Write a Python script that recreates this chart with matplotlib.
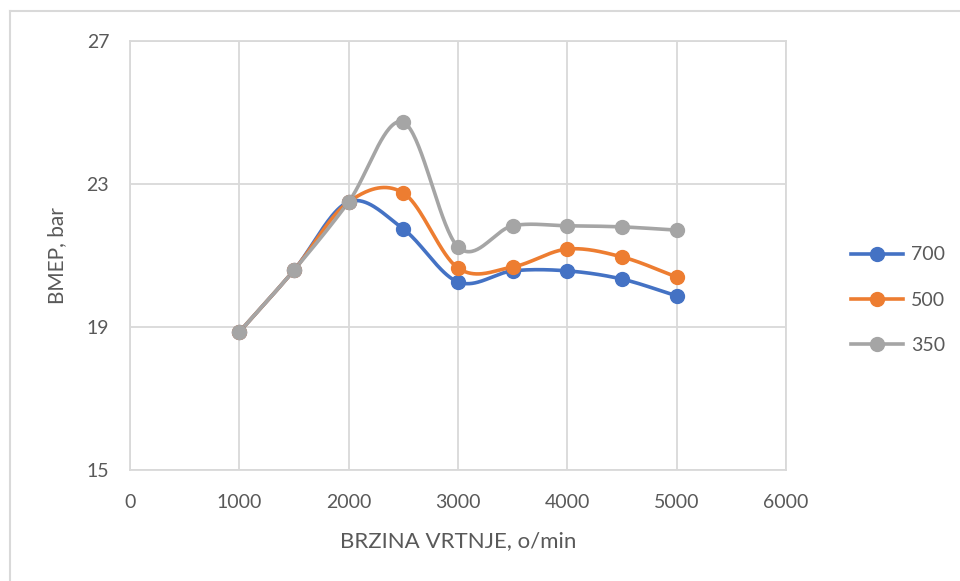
import matplotlib

matplotlib.use("Agg")

import matplotlib.pyplot as plt
import numpy as np
from matplotlib.lines import Line2D

speed = [1000, 1500, 2000, 2500, 3000, 3500, 4000, 4500, 5000]
bmep_700 = [18.86, 20.59, 22.50, 21.74, 20.26, 20.57, 20.57, 20.34, 19.87]
bmep_500 = [18.86, 20.59, 22.50, 22.75, 20.65, 20.68, 21.18, 20.96, 20.40]
bmep_350 = [18.86, 20.59, 22.50, 24.73, 21.24, 21.83, 21.83, 21.80, 21.71]

series_labels = ["700", "500", "350"]
series_colors = ["#4472C4", "#ED7D31", "#A5A5A5"]

x_ticks = [0, 1000, 2000, 3000, 4000, 5000, 6000]
y_ticks = [15, 19, 23, 27]

TEXT_COLOR = "#595959"
GRID_COLOR = "#D9D9D9"


def smooth(xs, ys, steps=40):
    # Catmull-Rom curve through the points, like spreadsheet "smoothed line"
    xs = np.asarray(xs, dtype=float)
    ys = np.asarray(ys, dtype=float)
    px = np.concatenate([[2 * xs[0] - xs[1]], xs, [2 * xs[-1] - xs[-2]]])
    py = np.concatenate([[2 * ys[0] - ys[1]], ys, [2 * ys[-1] - ys[-2]]])
    out_x, out_y = [], []
    t = np.linspace(0, 1, steps)
    for i in range(1, len(px) - 2):
        for p, out in ((px, out_x), (py, out_y)):
            p0, p1, p2, p3 = p[i - 1], p[i], p[i + 1], p[i + 2]
            seg = 0.5 * (
                2 * p1
                + (-p0 + p2) * t
                + (2 * p0 - 5 * p1 + 4 * p2 - p3) * t**2
                + (-p0 + 3 * p1 - 3 * p2 + p3) * t**3
            )
            out.extend(seg)
    return np.array(out_x), np.array(out_y)


plt.rcParams["font.family"] = ["Lato", "DejaVu Sans"]

fig = plt.figure(figsize=(9.6, 5.81), dpi=100)
ax = fig.add_axes([130 / 960, 1 - 470 / 581, 656 / 960, 429 / 581])

for values, label, color in zip([bmep_700, bmep_500, bmep_350], series_labels, series_colors):
    sx, sy = smooth(speed, values)
    ax.plot(sx, sy, color=color, linewidth=2.6, solid_capstyle="round", zorder=3)
    ax.plot(speed, values, linestyle="none", marker="o", markersize=10,
            color=color, zorder=4)

ax.set_xlim(0, 6000)
ax.set_ylim(15, 27)
ax.set_xticks(x_ticks)
ax.set_yticks(y_ticks)
ax.grid(True, color=GRID_COLOR, linewidth=1.3)
ax.set_axisbelow(True)
for side, spine in ax.spines.items():
    spine.set_color(GRID_COLOR)
    spine.set_linewidth(1.3)
ax.tick_params(length=0, labelsize=14, colors=TEXT_COLOR)
ax.tick_params(axis="x", pad=17)
ax.tick_params(axis="y", pad=15)

ax.set_xlabel("BRZINA VRTNJE, o/min", fontsize=16, color=TEXT_COLOR, labelpad=15)
ax.set_ylabel("BMEP, bar", fontsize=15, color=TEXT_COLOR, labelpad=14)

handles = [
    Line2D([0], [0], color=c, linewidth=2.6, marker="o", markersize=10)
    for c in series_colors
]
leg = fig.legend(handles, series_labels, loc="center left",
                 bbox_to_anchor=(833 / 960, 1 - 300 / 581), frameon=False,
                 fontsize=14, handlelength=2.7, labelspacing=1.45,
                 handletextpad=0.4)
for text in leg.get_texts():
    text.set_color(TEXT_COLOR)

# outer chart frame
fig.add_artist(Line2D([10 / 960, 10 / 960], [0, 1 - 11 / 581],
                      transform=fig.transFigure, color=GRID_COLOR, linewidth=1.5))
fig.add_artist(Line2D([10 / 960, 1], [1 - 11 / 581, 1 - 11 / 581],
                      transform=fig.transFigure, color=GRID_COLOR, linewidth=1.5))

fig.savefig("out.png", dpi=100)
plt.close(fig)
